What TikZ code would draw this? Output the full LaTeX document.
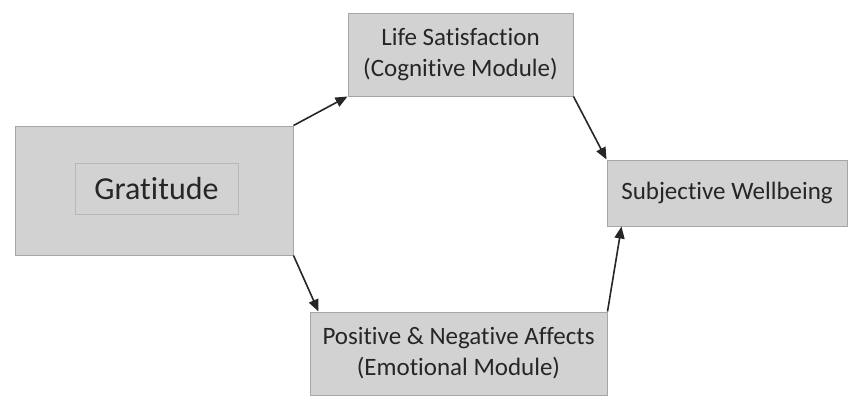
\documentclass[tikz,border=0pt]{standalone}
\usepackage{fontspec}
\setmainfont{Carlito}[Ligatures=NoCommon]
\usepackage{xcolor}
\usetikzlibrary{arrows.meta,calc}
\definecolor{boxfill}{HTML}{D2D2D2}
\definecolor{boxline}{HTML}{A6A6A6}
\definecolor{txt}{HTML}{262626}

\tikzset{
    module/.style={draw=boxline,fill=boxfill,line width=1pt,align=center,
        text=txt,font=\fontsize{25}{31}\selectfont,inner sep=0pt},
    link/.style={-{Triangle[length=12pt,width=10pt]},line width=1.6pt,draw=black!85}
}

\begin{document}
\begin{tikzpicture}[x=1pt,y=-1pt]
    \useasboundingbox (0,0) rectangle (851,396);
    \node[module,minimum width=278pt,minimum height=129pt] (grat) at (154,190.5) {};
    \node[module,draw=boxline!80,minimum width=163pt,minimum height=51pt,
        font=\fontsize{32}{36}\selectfont] (gratin) at (156.5,188.5) {Gratitude};
    \node[module,minimum width=225pt,minimum height=82pt] (life) at (460.5,55)
        {Life Satisfaction\\(Cognitive Module)};
    \node[module,minimum width=240pt,minimum height=66pt] (sw) at (727,193)
        {Subjective Wellbeing};
    \node[module,minimum width=297pt,minimum height=83pt] (pos) at (458.5,353.5)
        {Positive \& Negative Affects\\(Emotional Module)};
    \draw[link] (grat.north east) to (life.south west);
    \draw[link] (life.south east) to (sw.north west);
    \draw[link] (grat.south east) to ($(pos.north west)+(9,0)$);
    \draw[link] (pos.north east) to ($(sw.south west)+(15,0)$);
\end{tikzpicture}
\end{document}
